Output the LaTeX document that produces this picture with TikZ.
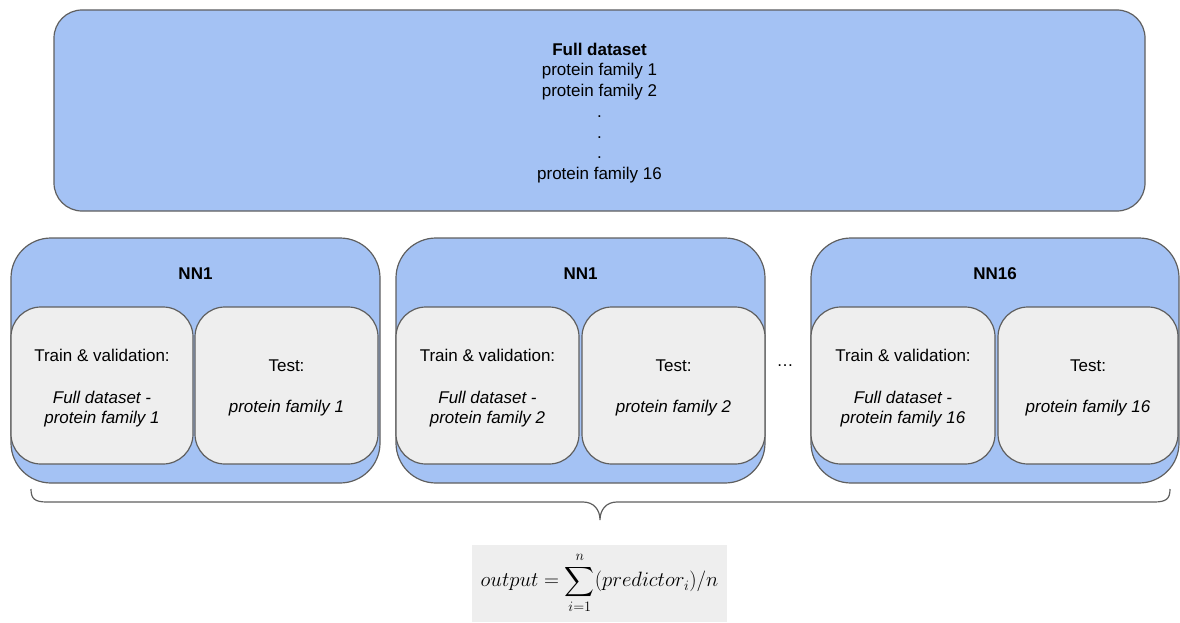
\documentclass[tikz,border=0pt]{standalone}
\usepackage{fontspec}
\setmainfont{Liberation Sans}
\usepackage{amsmath}
\definecolor{boxblue}{HTML}{A4C2F4}
\definecolor{boxgray}{HTML}{EEEEEE}
\definecolor{edge}{HTML}{5F5F5F}
\begin{document}
\begin{tikzpicture}[x=1pt,y=-1pt,
  every node/.style={inner sep=0pt,outer sep=0pt},
  bluebox/.style={draw=edge,line width=1.2pt,fill=boxblue,rounded corners=#1},
  graybox/.style={draw=edge,line width=1.2pt,fill=boxgray,rounded corners=30pt,
    minimum height=157pt,minimum width=#1,align=center,font=\fontsize{17}{20}\selectfont},
  ttext/.style={align=center,font=\fontsize{17}{20}\selectfont},
  nnlabel/.style={font=\fontsize{17}{20}\selectfont\bfseries},
  brace/.style={draw=edge,line width=1.2pt}]
\useasboundingbox (0,0) rectangle (1180,623);
% top box
\node[bluebox=28pt,minimum width=1091pt,minimum height=201pt] (full) at (599.5,110.5) {};
\node[align=center,font=\fontsize{17}{20.7}\selectfont] (fulltxt) at (599.5,113)
  {\textbf{Full dataset}\\protein family 1\\protein family 2\\.\\.\\.\\protein family 16};
% NN boxes
\node[bluebox=40pt,minimum width=369pt,minimum height=245pt] (nnA) at (195.5,360.5) {};
\node[bluebox=40pt,minimum width=369pt,minimum height=245pt] (nnB) at (580.5,360.5) {};
\node[bluebox=40pt,minimum width=368pt,minimum height=245pt] (nnC) at (995,360.5) {};
\node[nnlabel] (lA) at (195.5,274) {NN1};
\node[nnlabel] (lB) at (580.5,274) {NN1};
\node[nnlabel] (lC) at (995,274) {NN16};
% inner boxes
\node[graybox=182pt] (trA) at (102,385.5) {};
\node[graybox=183pt] (teA) at (286.5,385.5) {};
\node[graybox=183pt] (trB) at (487.5,385.5) {};
\node[graybox=183pt] (teB) at (673.5,385.5) {};
\node[graybox=184pt] (trC) at (903,385.5) {};
\node[graybox=180pt] (teC) at (1088,385.5) {};
\node[ttext] at ([yshift=-2.5pt]trA.center)
  {Train \& validation:\\[22pt]\textit{Full dataset -}\\\textit{protein family 1}};
\node[ttext] at ([yshift=-2.5pt]teA.center) {Test:\\[21pt]\textit{protein family 1}};
\node[ttext] at ([yshift=-2.5pt]trB.center)
  {Train \& validation:\\[22pt]\textit{Full dataset -}\\\textit{protein family 2}};
\node[ttext] at ([yshift=-2.5pt]teB.center) {Test:\\[21pt]\textit{protein family 2}};
\node[ttext] at ([yshift=-2.5pt]trC.center)
  {Train \& validation:\\[22pt]\textit{Full dataset -}\\\textit{protein family 16}};
\node[ttext] at ([yshift=-2.5pt]teC.center) {Test:\\[21pt]\textit{protein family 16}};
\node[font=\fontsize{17}{20}\selectfont] (dots) at (785,366) {\ldots};
% brace
\coordinate (bL) at (31,489);
\coordinate (bR) at (1170,489);
\coordinate (bT) at (600,520);
\draw[brace] (bL) .. controls (31,499) and (35,502) .. (47,502) -- (583,502)
  .. controls (594,502) and (600,510) .. (bT)
  .. controls (600,510) and (606,502) .. (617,502) -- (1154,502)
  .. controls (1166,502) and (1170,499) .. (bR);
% formula
\node[fill=boxgray,minimum width=255pt,minimum height=77pt] (out) at (599.5,583.5) {};
\node[font=\fontsize{21}{25}\selectfont] (outtxt) at (599.5,583)
  {$\displaystyle output=\sum_{i=1}^{n}(predictor_i)/n$};
\end{tikzpicture}
\end{document}
